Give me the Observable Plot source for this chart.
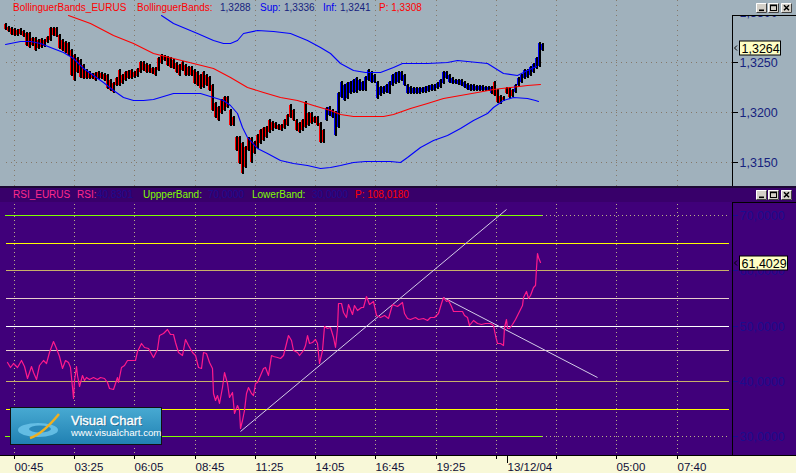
<!DOCTYPE html>
<html><head><meta charset="utf-8">
<script src="https://cdn.jsdelivr.net/npm/d3@7"></script>
<script src="https://cdn.jsdelivr.net/npm/@observablehq/plot@0.6"></script>
<style>
html,body{margin:0;padding:0;background:#a1b1bb;}
#wrap{position:relative;width:796px;height:473px;overflow:hidden;font-family:"Liberation Sans",Arial,sans-serif;}
#wrap svg{position:absolute;left:0;display:block;}
</style></head>
<body><div id="wrap"></div>
<script>
// ---------- DATA ----------
// Price bars (one bar per slot, left to right): highs and lows
const barHigh = [1.3288,1.3285,1.3284,1.3283,1.3282,1.3283,1.3281,1.3279,1.3279,1.3274,
 1.3274,1.3272,1.3273,1.3272,1.3275,1.3284,1.3284,1.3284,1.3277,1.3272,
 1.3270,1.3269,1.3262,1.3257,1.3254,1.3252,1.3247,1.3242,1.3240,1.3238,
 1.3239,1.3240,1.3239,1.3238,1.3237,1.3232,1.3229,1.3234,1.3242,1.3237,
 1.3240,1.3241,1.3242,1.3240,1.3243,1.3250,1.3250,1.3248,1.3247,1.3244,
 1.3244,1.3254,1.3257,1.3256,1.3255,1.3254,1.3252,1.3249,1.3247,1.3250,
 1.3247,1.3245,1.3245,1.3242,1.3240,1.3237,1.3240,1.3237,1.3235,1.3227,
 1.3209,1.3205,1.3212,1.3215,1.3215,1.3202,1.3195,1.3175,1.3175,1.3169,
 1.3165,1.3174,1.3174,1.3170,1.3177,1.3182,1.3184,1.3185,1.3192,1.3190,
 1.3189,1.3187,1.3187,1.3192,1.3197,1.3207,1.3202,1.3192,1.3189,1.3192,
 1.3210,1.3199,1.3199,1.3195,1.3195,1.3189,1.3182,1.3204,1.3205,1.3202,
 1.3200,1.3219,1.3230,1.3227,1.3229,1.3230,1.3232,1.3234,1.3232,1.3230,
 1.3235,1.3242,1.3240,1.3237,1.3230,1.3225,1.3225,1.3227,1.3230,1.3237,
 1.3239,1.3240,1.3240,1.3237,1.3227,1.3225,1.3224,1.3224,1.3224,1.3224,
 1.3225,1.3226,1.3227,1.3227,1.3229,1.3232,1.3240,1.3240,1.3237,1.3234,
 1.3232,1.3232,1.3232,1.3230,1.3228,1.3227,1.3227,1.3226,1.3226,1.3226,
 1.3225,1.3225,1.3225,1.3230,1.3222,1.3216,1.3215,1.3224,1.3224,1.3222,
 1.3227,1.3234,1.3237,1.3242,1.3242,1.3245,1.3248,1.3254,1.3269,1.3268];
const barLow = [1.3283,1.3281,1.3278,1.3277,1.3277,1.3278,1.3276,1.3267,1.3265,1.3267,
 1.3262,1.3264,1.3265,1.3266,1.3270,1.3272,1.3277,1.3276,1.3264,1.3262,
 1.3260,1.3257,1.3237,1.3232,1.3240,1.3235,1.3234,1.3234,1.3234,1.3234,
 1.3232,1.3234,1.3234,1.3232,1.3224,1.3222,1.3220,1.3227,1.3227,1.3229,
 1.3232,1.3234,1.3234,1.3235,1.3236,1.3240,1.3242,1.3240,1.3240,1.3239,
 1.3237,1.3242,1.3249,1.3252,1.3247,1.3245,1.3244,1.3240,1.3237,1.3242,
 1.3237,1.3237,1.3237,1.3229,1.3227,1.3224,1.3225,1.3227,1.3222,1.3202,
 1.3195,1.3192,1.3199,1.3202,1.3205,1.3187,1.3187,1.3162,1.3149,1.3139,
 1.3145,1.3162,1.3150,1.3159,1.3164,1.3169,1.3172,1.3175,1.3180,1.3182,
 1.3184,1.3183,1.3182,1.3184,1.3187,1.3195,1.3192,1.3182,1.3180,1.3182,
 1.3185,1.3187,1.3189,1.3190,1.3187,1.3170,1.3170,1.3192,1.3197,1.3195,
 1.3177,1.3185,1.3215,1.3212,1.3214,1.3219,1.3220,1.3220,1.3222,1.3222,
 1.3222,1.3232,1.3230,1.3230,1.3214,1.3217,1.3219,1.3220,1.3219,1.3227,
 1.3229,1.3230,1.3232,1.3227,1.3219,1.3219,1.3219,1.3219,1.3219,1.3220,
 1.3220,1.3221,1.3222,1.3222,1.3224,1.3225,1.3229,1.3234,1.3230,1.3229,
 1.3229,1.3228,1.3227,1.3225,1.3223,1.3222,1.3222,1.3222,1.3222,1.3222,
 1.3222,1.3222,1.3219,1.3217,1.3210,1.3209,1.3212,1.3219,1.3215,1.3216,
 1.3220,1.3227,1.3230,1.3234,1.3235,1.3237,1.3240,1.3244,1.3246,1.3262];
// bar side relative to the middle band: [first bar index, side]
const sideRuns = [[0, "below"], [107, "above"], [163, "below"], [170, "above"]];

// Bollinger bands: x in bar slots
const midX = [21,28.3,36,42.7,49.3,56,60,69.3,75,80.7,86,91.7,97.3,102.7,108.3,111.7,116,126,129.3,135,140.7,146,151.7,157.3,162.7,168.3,174,178.3];
const midV = [1.3297,1.3289,1.3277,1.3269,1.3259,1.3254,1.3251,1.3244,1.3235,1.3225,1.3220,1.3215,1.3212,1.3207,1.3202,1.3198,1.3196,1.3196,1.3198,1.3204,1.3209,1.3214,1.3217,1.3220,1.3223,1.3225,1.3227,1.3228];
const upX = [52,56,60,64,69.3,72.7,75,77.3,79.3,84,89.3,95,100.7,105,108.3,111.7,116,120,125,129.3,132.3,140.7,147.3,150.7,157.3,160.7,166,170.7,174,177];
const upV = [1.3297,1.3289,1.3284,1.3279,1.3272,1.3269,1.3269,1.3272,1.3279,1.3282,1.3281,1.3279,1.3272,1.3265,1.3259,1.3249,1.3242,1.3240,1.3240,1.3245,1.3249,1.3249,1.3250,1.3252,1.3250,1.3249,1.3239,1.3237,1.3242,1.3246];
const loX = [0,5,8.3,11.7,15,19.3,22.7,26,29.3,32.7,36,39.3,42.7,46,49.3,52.7,56,65,69.3,72.7,75,77.3,79,80.7,84,87.3,91.7,96,100.7,105,108.3,111.7,116,120,128.3,131.7,134,138.3,142.7,147.3,151.7,156,160.7,162.7,166,169.3,174,176.7,177.7];
const loV = [1.3268,1.3271,1.3271,1.3269,1.3265,1.3260,1.3254,1.3244,1.3237,1.3230,1.3222,1.3215,1.3212,1.3212,1.3213,1.3216,1.3219,1.3219,1.3215,1.3212,1.3207,1.3199,1.3185,1.3175,1.3164,1.3159,1.3152,1.3149,1.3147,1.3144,1.3145,1.3147,1.3150,1.3151,1.3151,1.3150,1.3155,1.3165,1.3172,1.3177,1.3184,1.3192,1.3199,1.3205,1.3212,1.3215,1.3214,1.3212,1.3211];

// RSI line
const rsiX = [0.7,1.7,2.7,4.0,5.3,6.3,7.3,8.7,9.3,10.3,11.3,12.7,13.7,14.7,16.0,17.0,18.0,19.0,20.0,21.0,21.7,22.3,22.7,23.0,23.7,24.0,24.7,25.7,26.3,27.0,28.0,29.3,30.7,31.7,33.0,34.0,34.7,36.0,36.7,37.3,37.7,38.7,39.7,40.7,42.0,43.3,44.0,45.3,46.3,47.7,49.3,50.7,51.3,52.7,54.0,55.0,56.0,56.7,57.7,59.0,
 60.0,61.0,62.3,63.3,64.3,65.3,66.0,67.0,68.0,69.0,69.3,70.0,70.7,71.3,72.3,73.0,74.0,74.7,75.7,76.3,77.3,78.0,78.3,79.0,79.7,80.3,81.0,82.0,82.7,83.3,84.0,85.0,86.0,86.7,87.7,88.7,89.3,90.7,91.7,92.7,93.7,94.3,95.3,96.0,97.3,98.0,99.3,100.0,100.7,101.3,102.3,103.3,104.0,104.7,105.7,106.3,107.3,108.3,109.3,110.0,110.7,111.0,112.0,112.7,113.7,114.3,115.7,116.3,117.3,118.7,119.3,120.3,121.3,122.7,123.7,125.0,126.3,127.7,129.0,130.7,132.3,133.0,134.0,135.0,136.7,137.7,139.3,140.7,141.7,143.0,144.3,145.3,146.0,147.0,147.7,148.7,149.3,150.7,152.3,153.0,154.0,154.7,156.0,157.3,158.7,160.0,161.7,162.7,163.3,164.0,165.0,166.0,166.3,167.0,167.3,168.0,169.0,170.0,171.0,172.3,172.7,173.7,174.3,175.0,176.0,176.7,177.0,177.3,177.7,178.3];
const rsiV = [43.5,42.5,43.2,42.5,43.8,42.7,40.5,42.7,41.6,40.4,42.9,43.8,43.2,45.2,47.2,46.0,44.5,42.3,43.8,43.4,42.5,38.9,36.9,40.2,42.7,41.1,39.1,41.1,40.2,40.7,40.4,40.7,40.4,40.7,40.5,39.8,38.7,38.5,39.6,40.7,39.8,42.5,42.9,43.8,43.8,43.8,45.4,46.9,46.1,46.0,44.3,45.8,48.3,48.7,49.4,48.5,48.5,47.0,45.2,44.7,
 47.6,46.5,45.2,44.7,42.5,42.3,45.2,45.1,43.4,42.3,37.8,36.6,37.5,36.0,38.9,41.6,39.6,37.1,38.0,34.2,35.6,34.7,31.5,32.9,34.7,37.8,38.9,37.8,37.5,39.6,39.8,41.1,42.3,42.5,41.1,44.7,44.5,44.3,44.2,44.7,46.9,48.3,47.4,45.6,45.2,44.7,45.6,46.5,48.3,46.9,47.0,47.6,46.9,43.2,45.6,50.0,49.6,49.8,48.0,46.1,49.6,54.1,54.1,52.5,51.6,53.9,52.1,53.7,52.8,53.4,53.4,55.4,53.9,54.5,51.9,51.6,51.9,51.4,53.9,53.6,54.3,52.3,51.4,51.2,51.6,51.2,51.4,51.0,51.6,51.6,52.3,54.1,55.2,54.5,54.7,53.6,52.7,52.7,52.7,51.9,51.6,50.1,51.0,50.5,50.3,50.5,50.5,50.1,48.3,46.9,46.9,46.5,49.8,51.2,49.6,49.6,50.3,51.2,52.3,53.7,55.2,56.3,55.0,55.6,57.0,57.4,60.4,63.2,62.4,61.5];

// Trend lines drawn on the RSI panel
const trendX1 = [78.3, 146.1], trendY1 = [31.0, 55.25];
const trendX2 = [166.9, 197.4], trendY2 = [71.2, 40.8];

// RSI horizontal levels
const levelBand = [70, 30];      // green
const levelOuter = [65, 35];     // yellow
const levelMid = [60, 40];       // khaki
const levelInner = [55, 45.6];   // pale pink
const levelCenter = [50];        // white

// Axis ticks
const priceTicks = [1.315, 1.32, 1.325, 1.33];
const priceGrid = [1.315, 1.32, 1.325];
const rsiTicks = [30, 40, 50, 60, 70];
const timeTickPos = [2.9, 23.0, 43.1, 63.2, 83.3, 103.4, 123.4, 143.5, 163.6, 183.7, 203.8, 223.9];
const timeTickLabels = ["00:45","03:25","06:05","08:45","11:25","14:05","16:45","19:25","","","05:00","07:40"];
const dateTickPos = [166.7];
const dateTickLabels = ["13/12/04"];

const lastPrice = 1.3264;
const lastRsi = 61.4029;

const topTitle = [["BollinguerBands_EURUS",13,"#ff0000"],["BollinguerBands:",137,"#ff0000"],["1,3288",220,"#16227e"],["Sup:",260,"#0000f0"],["1,3336",284,"#16227e"],["Inf:",323,"#0000f0"],["1,3241",340,"#16227e"],["P: 1,3308",379,"#ff0000"]];
const lowTitle = [["RSI_EURUS",13,"#ff2a8c"],["RSI:",77,"#ff2a8c"],["40,8301",97,"#1c0c8e"],["UppperBand:",143,"#80ff00"],["70,0000",208,"#1c0c8e"],["LowerBand:",252,"#80ff00"],["30,0000",312,"#1c0c8e"],["P: 108,0180",355,"#ff0000"]];

// ---------- BUILD ----------
const fmt4 = d => d.toFixed(4).replace(".", ",");
const sideAt = i => { let s = sideRuns[0][1]; for (const [st, v] of sideRuns) if (i >= st) s = v; return s; };
const bars = barHigh.map((h, i) => ({i, high: h, low: barLow[i], side: sideAt(i)}));
const mid = midX.map((x, k) => ({x, v: midV[k]}));
const up = upX.map((x, k) => ({x, v: upV[k]}));
const lo = loX.map((x, k) => ({x, v: loV[k]}));
const rsi = rsiX.map((x, k) => ({x, v: rsiV[k]}));
const trends = trendX1.map((x1, k) => ({x1, y1: trendY1[k], x2: trendX2[k], y2: trendY2[k]}));
const tickLabelMap = new Map(timeTickPos.map((p, k) => [p, timeTickLabels[k]]));
const dateLabelMap = new Map(dateTickPos.map((p, k) => [p, dateTickLabels[k]]));

const xDomain = [-1.667, 242.333];
const GRAY = "#a0b1bc", PURPLE = "#40007a";
const font = "Liberation Sans, Arial, sans-serif";
const crisp = {shapeRendering: "crispEdges"};

const topChart = Plot.plot({
  width: 796, height: 186,
  marginLeft: 0, marginRight: 64, marginTop: 0, marginBottom: 0,
  style: {background: GRAY, fontFamily: font, overflow: "visible"},
  x: {domain: xDomain, axis: null, round: true},
  y: {domain: [1.3126, 1.3312], axis: null, round: true},
  color: {domain: ["below", "above"], range: ["#ff0000", "#0000ff"]},
  marks: [
    Plot.ruleY(priceGrid, {stroke: "#85796a", strokeDasharray: "1,4", insetLeft: 6, ...crisp}),
    Plot.ruleX(timeTickPos, {stroke: "#85796a", strokeDasharray: "1,4", ...crisp}),
    Plot.ruleX(bars, {x: "i", y1: "low", y2: "high", stroke: "side", strokeWidth: 1, dx: -1, ...crisp}),
    Plot.ruleX(bars, {x: "i", y1: "low", y2: "high", stroke: "#000000", strokeWidth: 2, dx: 0.5, insetTop: 1, insetBottom: 1, ...crisp}),
    Plot.line(mid, {x: "x", y: "v", stroke: "#ff0000", strokeWidth: 1.1}),
    Plot.line(up, {x: "x", y: "v", stroke: "#0000ff", strokeWidth: 1.1}),
    Plot.line(lo, {x: "x", y: "v", stroke: "#0000ff", strokeWidth: 1.1}),
    Plot.axisY({anchor: "right", ticks: priceTicks, tickFormat: fmt4, tickSize: 5, tickPadding: 2, fontSize: 12.5, fill: "#16227e", stroke: "#000"})
  ]
});

const lowChart = Plot.plot({
  width: 796, height: 285,
  marginLeft: 0, marginRight: 64, marginTop: 0, marginBottom: 18,
  style: {background: `linear-gradient(to bottom, ${PURPLE} 0px, ${PURPLE} 267px, #f8f8d8 267px)`, fontFamily: font, overflow: "visible"},
  x: {domain: xDomain, axis: null, round: true},
  y: {domain: [26.6, 74.92], axis: null, round: true},
  marks: [
    Plot.ruleY(rsiTicks, {stroke: "#b8b088", strokeDasharray: "1,3", insetLeft: 6, insetRight: 2, ...crisp}),
    Plot.ruleX(timeTickPos, {stroke: "#b8b088", strokeDasharray: "1,3", ...crisp}),
    Plot.ruleY(levelOuter, {stroke: "#ffff00", strokeWidth: 1, insetLeft: 6, insetRight: 3, ...crisp}),
    Plot.ruleY(levelMid, {stroke: "#c8b068", strokeWidth: 1, insetLeft: 6, insetRight: 3, ...crisp}),
    Plot.ruleY(levelInner, {stroke: "#e8cccc", strokeWidth: 1, insetLeft: 6, insetRight: 3, ...crisp}),
    Plot.ruleY(levelCenter, {stroke: "#ffffff", strokeWidth: 1, insetLeft: 6, insetRight: 3, ...crisp}),
    Plot.ruleY(levelBand, {x1: 0, x2: barHigh.length - 1, stroke: "#80ff00", strokeWidth: 1, ...crisp}),
    Plot.link(trends, {x1: "x1", y1: "y1", x2: "x2", y2: "y2", stroke: "#d4cce8", strokeWidth: 1}),
    Plot.line(rsi, {x: "x", y: "v", stroke: "#ff1a8c", strokeWidth: 1.2}),
    Plot.axisY({anchor: "right", ticks: rsiTicks, tickFormat: fmt4, tickSize: 5, tickPadding: 2, fontSize: 12.5, fill: "#1c0c8e", stroke: "#1c0c8e"}),
    Plot.axisX({anchor: "bottom", ticks: timeTickPos, tickFormat: d => tickLabelMap.get(d), tickSize: 4, tickPadding: 3, textAnchor: "start", fontSize: 11.5, fill: "#101038", stroke: "#000"}),
    Plot.axisX({anchor: "bottom", ticks: dateTickPos, tickFormat: d => dateLabelMap.get(d), tickSize: 8, tickPadding: -1, textAnchor: "start", dx: 2, fontSize: 11.5, fill: "#101038", stroke: "#000"})
  ]
});

const wrap = document.getElementById("wrap");
topChart.style.top = "0px";
lowChart.style.top = "188px";
wrap.appendChild(topChart);
wrap.appendChild(lowChart);

// ---------- OVERLAY (frame decorations) ----------
const ov = d3.select(wrap).append("svg").attr("width", 796).attr("height", 473)
  .style("top", "0px").style("pointer-events", "none").style("font-family", font);

ov.append("rect").attr("x", 0).attr("y", 186).attr("width", 796).attr("height", 2).attr("fill", "#1c0834");
ov.append("rect").attr("x", 0).attr("y", 188).attr("width", 796).attr("height", 14).attr("fill", "#38006a");
ov.append("rect").attr("x", 733).attr("y", 0).attr("width", 63).attr("height", 15).attr("fill", GRAY);

const blk = (x1, y1, x2, y2) => ov.append("line").attr("x1", x1).attr("y1", y1).attr("x2", x2).attr("y2", y2).attr("stroke", "#000").attr("stroke-width", 1);
blk(732.5, 15, 732.5, 186); blk(732, 15.5, 796, 15.5);
blk(732.5, 202, 732.5, 455); blk(732, 202.5, 796, 202.5);
blk(0, 455.5, 796, 455.5);

function title(segs, baseline) {
  for (const [t, x, c] of segs)
    ov.append("text").attr("x", x).attr("y", baseline).attr("fill", c).attr("font-size", 10).text(t);
}
title(topTitle, 10.7);
title(lowTitle, 197.6);

function buttons(y) {
  for (const [x, kind] of [[756, "min"], [768, "max"], [781, "close"]]) {
    const g = ov.append("g").attr("transform", `translate(${x},${y})`);
    g.append("rect").attr("width", 11).attr("height", 10).attr("fill", "#d4d0c8");
    g.append("path").attr("d", "M0.5,9.5V0.5H10.5").attr("stroke", "#fff").attr("fill", "none");
    g.append("path").attr("d", "M0.5,9.5H10.5V0.5").attr("stroke", "#404040").attr("fill", "none");
    if (kind === "min") g.append("rect").attr("x", 3).attr("y", 6.5).attr("width", 5).attr("height", 1.6).attr("fill", "#000");
    if (kind === "max") { g.append("rect").attr("x", 2.5).attr("y", 2).attr("width", 6).attr("height", 5.5).attr("fill", "none").attr("stroke", "#000");
                          g.append("rect").attr("x", 2.5).attr("y", 2).attr("width", 6).attr("height", 1.2).attr("fill", "#000"); }
    if (kind === "close") g.append("path").attr("d", "M3,2.2L8,7.2M8,2.2L3,7.2").attr("stroke", "#000").attr("stroke-width", 1.5);
  }
}
buttons(3); buttons(190);

function valueBox(yc, w, label) {
  ov.append("path").attr("d", `M737,${yc - 2.5}L734.5,${yc}L737,${yc + 2.5}`).attr("stroke", "#000").attr("fill", "none");
  ov.append("rect").attr("x", 739.5).attr("y", yc - 7).attr("width", w).attr("height", 14).attr("fill", "#ffffc4").attr("stroke", "#000");
  ov.append("text").attr("x", 741.5).attr("y", yc + 4.6).attr("font-size", 12.5).attr("fill", "#000").text(label);
}
valueBox(topChart.scale("y").apply(lastPrice), 41, fmt4(lastPrice));
valueBox(188 + lowChart.scale("y").apply(lastRsi), 48, fmt4(lastRsi));

// logo
const defs = ov.append("defs");
const gr = defs.append("linearGradient").attr("id", "lg").attr("x1", 0).attr("y1", 0).attr("x2", 0).attr("y2", 1);
gr.append("stop").attr("offset", 0).attr("stop-color", "#48aad2");
gr.append("stop").attr("offset", 1).attr("stop-color", "#2080b2");
const lg = ov.append("g").attr("transform", "translate(10,407)");
lg.append("rect").attr("x", 0.5).attr("y", 0.5).attr("width", 151).attr("height", 37).attr("fill", "url(#lg)").attr("stroke", "#101010");
lg.append("ellipse").attr("cx", 28).attr("cy", 23).attr("rx", 20).attr("ry", 7).attr("fill", "#6cc4ea").attr("opacity", 0.85);
lg.append("ellipse").attr("cx", 30).attr("cy", 22).attr("rx", 11).attr("ry", 3.5).attr("fill", "#2a88b8");
lg.append("path").attr("d", "M20,31 C30,28 40,18 49,7").attr("stroke", "#f0b020").attr("stroke-width", 2.5).attr("fill", "none");
lg.append("text").attr("x", 62).attr("y", 18.5).attr("font-size", 13).attr("fill", "#1a4a6a").attr("opacity", 0.6).text("Visual Chart");
lg.append("text").attr("x", 61).attr("y", 17.5).attr("font-size", 13).attr("fill", "#fff")
  .attr("stroke", "#fff").attr("stroke-width", 0.35).text("Visual Chart");
lg.append("text").attr("x", 61).attr("y", 29).attr("font-size", 9.7).attr("fill", "#fff").text("www.visualchart.com");
</script>
</body></html>
